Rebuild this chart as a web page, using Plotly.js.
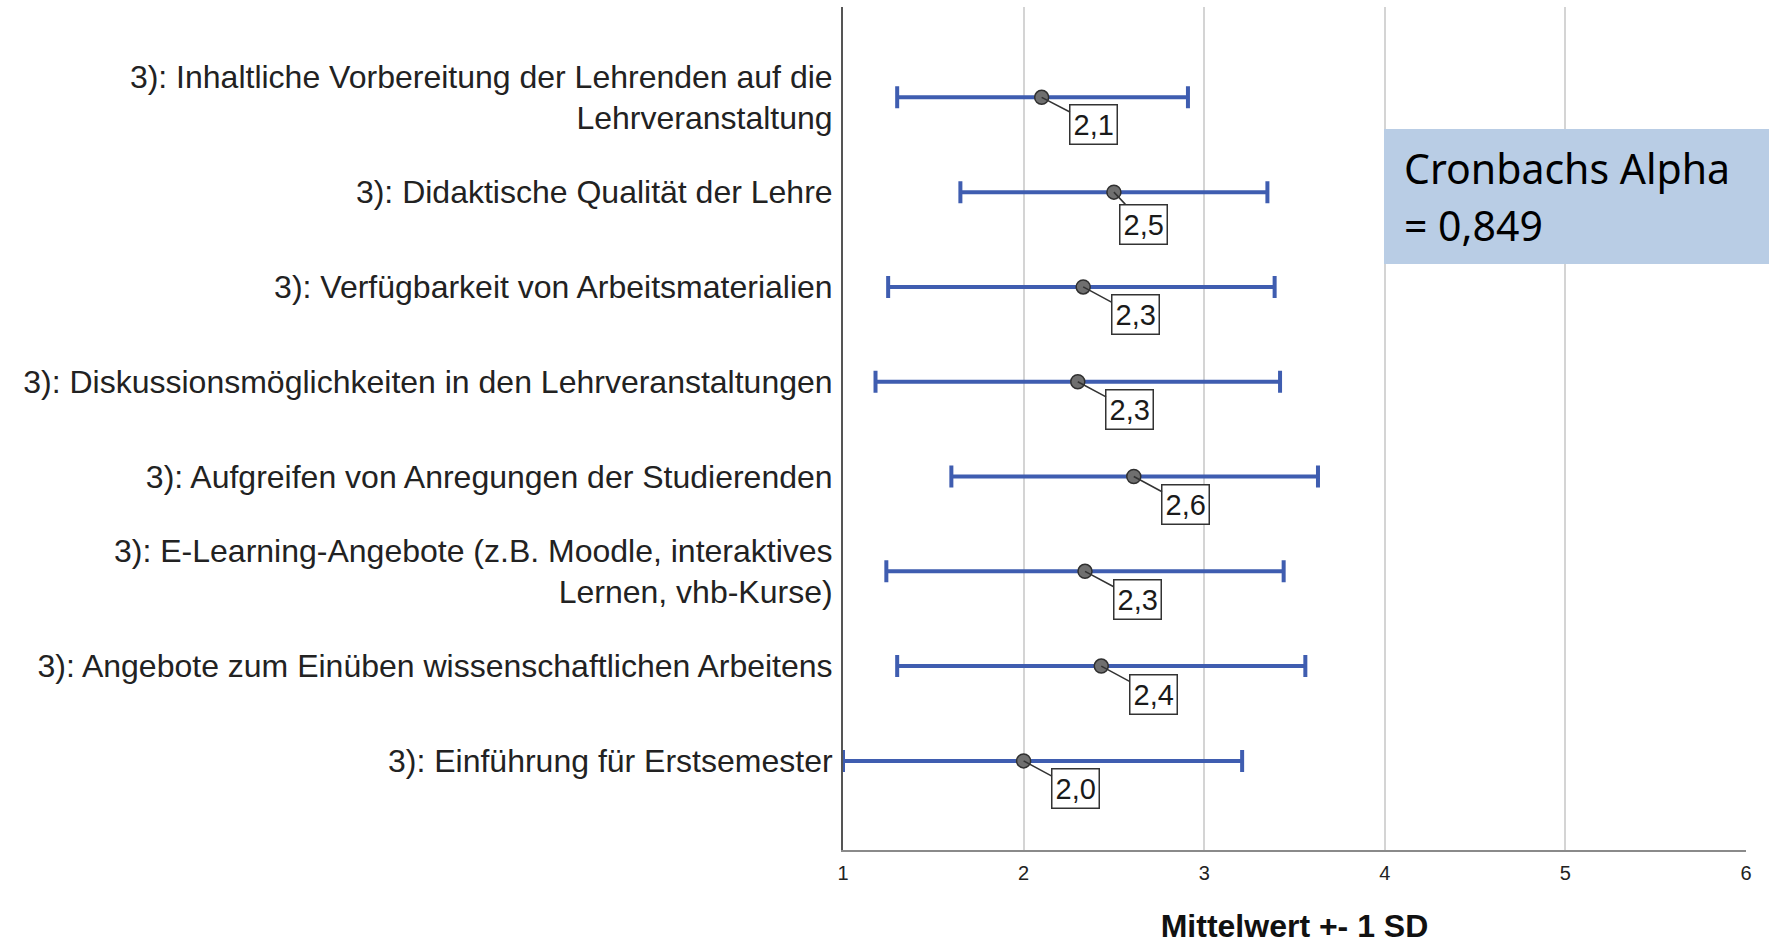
<!DOCTYPE html>
<html>
<head>
<meta charset="utf-8">
<script src="https://cdn.plot.ly/plotly-3.0.1.min.js"></script>
<style>html,body{margin:0;padding:0;background:#fff;}#chart{width:1769px;height:944px;}</style>
</head>
<body>
<div id="chart"></div>
<script>
// ---- data ----
const categories = [
  "3): Inhaltliche Vorbereitung der Lehrenden auf die<br>Lehrveranstaltung",
  "3): Didaktische Qualität der Lehre",
  "3): Verfügbarkeit von Arbeitsmaterialien",
  "3): Diskussionsmöglichkeiten in den Lehrveranstaltungen",
  "3): Aufgreifen von Anregungen der Studierenden",
  "3): E-Learning-Angebote (z.B. Moodle, interaktives<br>Lernen, vhb-Kurse)",
  "3): Angebote zum Einüben wissenschaftlichen Arbeitens",
  "3): Einführung für Erstsemester"
];
const means  = [2.10, 2.50, 2.33, 2.30, 2.61, 2.34, 2.43, 2.00];
const lower  = [1.30, 1.65, 1.25, 1.18, 1.60, 1.24, 1.30, 1.00];
const upper  = [2.91, 3.35, 3.39, 3.42, 3.63, 3.44, 3.56, 3.21];
const valueLabels = ["2,1", "2,5", "2,3", "2,3", "2,6", "2,3", "2,4", "2,0"];
const xTicks = [1, 2, 3, 4, 5, 6];
const xTickLabels = ["1", "2", "3", "4", "5", "6"];
const boxText = ["Cronbachs Alpha", "= 0,849"];

// ---- label placement (layout only) ----
const labelDx = [52, 30, 52, 52, 52, 52, 52, 52];
const labelDy = [27, 32, 28, 28, 28, 28, 28, 28];

const trace = {
  type: "scatter",
  mode: "markers",
  x: means,
  y: categories,
  marker: {size: 14, color: "#6f6f6f", line: {color: "#303030", width: 1.5}},
  error_x: {
    type: "data",
    symmetric: false,
    array: means.map((m, i) => upper[i] - m),
    arrayminus: means.map((m, i) => m - lower[i]),
    color: "#3f5db0",
    thickness: 4,
    width: 11
  },
  hoverinfo: "x+y",
  showlegend: false
};

const annotations = means.map((m, i) => ({
  x: m, y: categories[i], xref: "x", yref: "y",
  text: valueLabels[i],
  showarrow: true, arrowhead: 0, arrowwidth: 1.5, arrowcolor: "#333",
  ax: labelDx[i], ay: labelDy[i],
  bgcolor: "#ffffff", bordercolor: "#333", borderwidth: 1.5, borderpad: 3,
  font: {family: "Liberation Sans, Arial, sans-serif", size: 29, color: "#1a1a1a"}
}));

annotations.push({
  xref: "paper", yref: "paper", x: 0.619, y: 0.809, xanchor: "left", yanchor: "middle",
  text: boxText[0], showarrow: false,
  font: {family: "Noto Sans, Open Sans, sans-serif", size: 41, color: "#000"}
});
annotations.push({
  xref: "paper", yref: "paper", x: 0.619, y: 0.7414, xanchor: "left", yanchor: "middle",
  text: boxText[1], showarrow: false,
  font: {family: "Noto Sans, Open Sans, sans-serif", size: 41, color: "#000"}
});

const layout = {
  width: 1769, height: 944,
  margin: {l: 843, r: 23, t: 7, b: 94},
  paper_bgcolor: "#ffffff", plot_bgcolor: "#ffffff",
  xaxis: {
    range: [1, 6], autorange: false,
    tickvals: xTicks, ticktext: xTickLabels,
    showgrid: true, gridcolor: "#d4d4d4", gridwidth: 2,
    zeroline: false,
    showline: true, linecolor: "#8a8a8a", linewidth: 2,
    ticks: "", ticklabelstandoff: 4,
    tickfont: {family: "Liberation Sans, Arial, sans-serif", size: 20, color: "#222"},
    title: {text: "<b>Mittelwert +- 1 SD</b>", standoff: 37,
            font: {family: "Liberation Sans, Arial, sans-serif", size: 32, color: "#111"}},
    automargin: false
  },
  yaxis: {
    type: "category",
    categoryorder: "array", categoryarray: categories,
    range: [7.94, -0.953], autorange: false,
    showgrid: false, zeroline: false,
    showline: true, linecolor: "#555555", linewidth: 2,
    ticks: "", ticklabelstandoff: 2,
    tickfont: {family: "Liberation Sans, Arial, sans-serif", size: 32, color: "#222"},
    automargin: false
  },
  shapes: [{
    type: "rect", xref: "paper", yref: "paper",
    x0: 0.5991, x1: 1.03, y0: 0.6951, y1: 0.8553,
    fillcolor: "#b9cde5", line: {width: 0}, layer: "above"
  }],
  annotations: annotations
};

Plotly.newPlot("chart", [trace], layout, {displayModeBar: false, staticPlot: true});
</script>
</body>
</html>
